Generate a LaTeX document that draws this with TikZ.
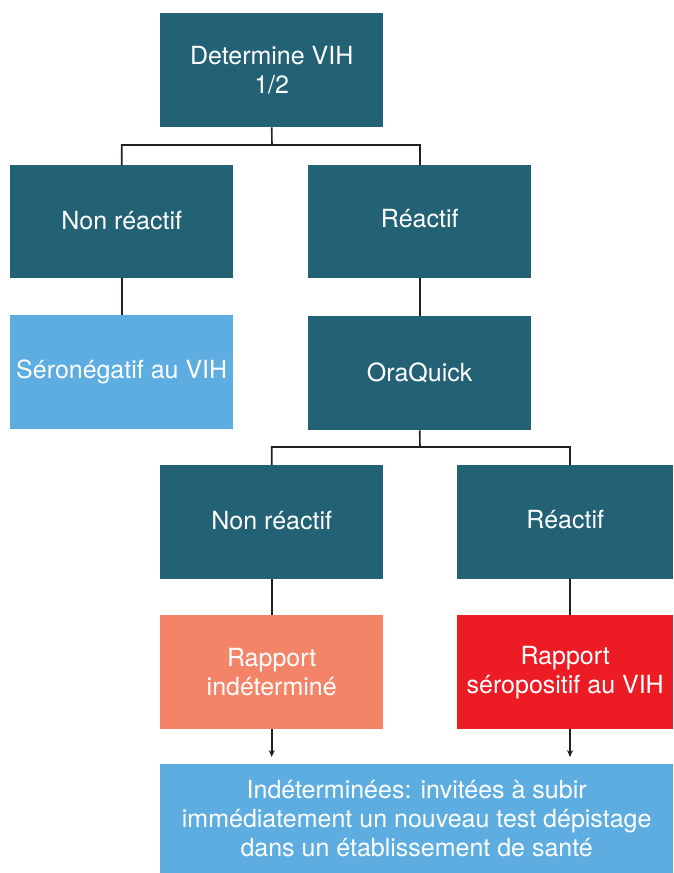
\documentclass[tikz,border=0pt]{standalone}
\usepackage{fontspec}
\setmainfont{TeX Gyre Heros}
\usetikzlibrary{arrows.meta}
\definecolor{teal}{HTML}{236175}
\definecolor{lblue}{HTML}{5DADE0}
\definecolor{salmon}{HTML}{F38468}
\definecolor{rred}{HTML}{ED1C24}
\definecolor{line}{HTML}{231F20}
\tikzset{
  box/.style={anchor=north west, inner sep=0pt, text=white, align=center,
    font=\fontsize{25}{29}\selectfont},
  conn/.style={draw=line, line width=1.6pt},
  arr/.style={conn, -{Stealth[length=7pt,width=6pt]}, shorten >=7pt}
}
\begin{document}
\begin{tikzpicture}[x=1pt,y=-1pt]
\useasboundingbox (0,0) rectangle (673,873);
\node[box, fill=teal, minimum width=223pt, minimum height=114pt] (top) at (160,13) {Determine VIH\\1/2};
\node[box, fill=teal, minimum width=223pt, minimum height=113pt] (nr1) at (10,165) {\raisebox{3pt}{Non réactif}};
\node[box, fill=teal, minimum width=223pt, minimum height=113pt] (r1) at (308,165) {\raisebox{6pt}{Réactif}};
\node[box, fill=lblue, minimum width=223pt, minimum height=114pt] (neg) at (10,315) {Séronégatif au VIH};
\node[box, fill=teal, minimum width=223pt, minimum height=114pt] (ora) at (308,316) {OraQuick};
\node[box, fill=teal, minimum width=223pt, minimum height=114pt] (nr2) at (160,465) {\raisebox{4pt}{Non réactif}};
\node[box, fill=teal, minimum width=216pt, minimum height=114pt] (r2) at (457,465) {\raisebox{5pt}{Réactif}};
\node[box, fill=salmon, minimum width=223pt, minimum height=114pt] (rap1) at (160,615) {Rapport\\indéterminé};
\node[box, fill=rred, minimum width=216pt, minimum height=114pt] (rap2) at (457,615) {Rapport\\séropositif au VIH};
\node[box, fill=lblue, minimum width=513pt, minimum height=109pt] (bot) at (160,764) {Indéterminées: invitées à subir\\immédiatement un nouveau test dépistage\\dans un établissement de santé};
\coordinate (j1) at (272,145);
\coordinate (j2) at (420,447);
\coordinate (c2) at (570,447);
\draw[conn] (top.south) -- (j1) -| (nr1.north);
\draw[conn] (j1) -| (r1.north);
\draw[conn] (nr1.south) -- (neg.north);
\draw[conn] (r1.south) -- (ora.north);
\draw[conn] (ora.south) -- (j2) -| (nr2.north);
\draw[conn] (j2) -- (c2) -- (c2 |- r2.north);
\draw[conn] (nr2.south) -- (rap1.north);
\draw[conn] (c2 |- r2.south) -- (c2 |- rap2.north);
\draw[arr] (rap1.south) -- (rap1.south |- bot.north);
\draw[arr] (c2 |- rap2.south) -- (c2 |- bot.north);
\end{tikzpicture}
\end{document}
